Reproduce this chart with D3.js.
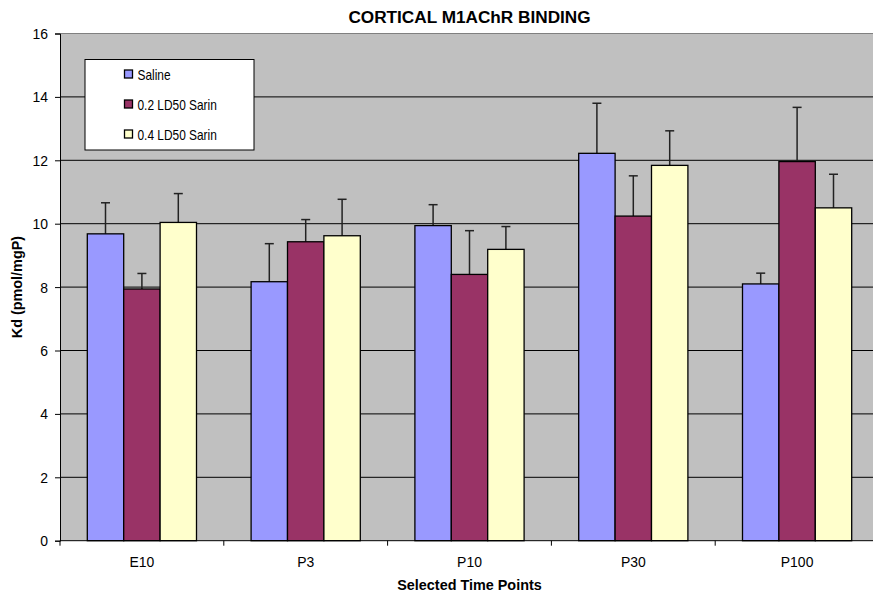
<!DOCTYPE html>
<html>
<head>
<meta charset="utf-8">
<script src="https://cdn.jsdelivr.net/npm/d3@7"></script>
<style>
  body { margin: 0; background: #fff; }
  text { font-family: "Liberation Sans", Arial, sans-serif; }
</style>
</head>
<body>
<div id="chart"></div>
<script>
const timePoints = ["E10", "P3", "P10", "P30", "P100"];
const groups = ["Saline", "0.2 LD50 Sarin", "0.4 LD50 Sarin"];
const saline = [9.68, 8.17, 9.94, 12.22, 8.10];
const sarin02 = [7.94, 9.43, 8.40, 10.24, 11.96];
const sarin04 = [10.04, 9.62, 9.19, 11.84, 10.50];
const salineErr = [0.98, 1.20, 0.66, 1.58, 0.34];
const sarin02Err = [0.49, 0.70, 1.38, 1.27, 1.71];
const sarin04Err = [0.91, 1.15, 0.72, 1.09, 1.06];
const yTicks = [0, 2, 4, 6, 8, 10, 12, 14, 16];
const colors = ["#9999FF", "#993366", "#FFFFCC"];

const W = 873, H = 594;
const margin = { top: 33.5, left: 60, bottom: 53.3 };
const plotRight = 879;
const tickSx = 0.9; // text in the original looks a bit condensed

const svg = d3.select("#chart").append("svg")
  .attr("width", W).attr("height", H);

const x = d3.scaleBand().domain(timePoints)
  .range([margin.left, plotRight]).paddingInner(0).paddingOuter(0);
const inner = d3.scaleBand().domain(groups)
  .range([0, x.bandwidth() * 2 / 3]);
const y = d3.scaleLinear().domain([0, 16])
  .range([H - margin.bottom, margin.top]);

// plot background
svg.append("rect")
  .attr("x", margin.left).attr("y", y(16))
  .attr("width", plotRight - margin.left).attr("height", y(0) - y(16))
  .attr("fill", "#C0C0C0");

// grid lines
svg.append("g").selectAll("line")
  .data(yTicks.filter(d => d > 0 && d < 16))
  .enter().append("line")
  .attr("x1", margin.left).attr("x2", plotRight)
  .attr("y1", d => y(d)).attr("y2", d => y(d))
  .attr("stroke", "#000").attr("stroke-width", 1);

svg.append("line")
  .attr("x1", margin.left).attr("x2", plotRight)
  .attr("y1", y(16)).attr("y2", y(16))
  .attr("stroke", "#808080").attr("stroke-width", 1);

// bars
const rows = timePoints.map((t, i) => ({
  t,
  vals: [
    { g: groups[0], v: saline[i], e: salineErr[i], c: colors[0] },
    { g: groups[1], v: sarin02[i], e: sarin02Err[i], c: colors[1] },
    { g: groups[2], v: sarin04[i], e: sarin04Err[i], c: colors[2] }
  ]
}));

const grp = svg.append("g").selectAll("g")
  .data(rows).enter().append("g")
  .attr("transform", d => `translate(${x(d.t) + x.bandwidth() / 6},0)`);

grp.selectAll("line.err")
  .data(d => d.vals).enter().append("line")
  .attr("class", "err")
  .attr("x1", d => inner(d.g) + inner.bandwidth() / 2)
  .attr("x2", d => inner(d.g) + inner.bandwidth() / 2)
  .attr("y1", d => y(d.v)).attr("y2", d => y(d.v + d.e))
  .attr("stroke", "#222").attr("stroke-width", 1.5);

grp.selectAll("line.cap")
  .data(d => d.vals).enter().append("line")
  .attr("class", "cap")
  .attr("x1", d => inner(d.g) + inner.bandwidth() / 2 - 4.5)
  .attr("x2", d => inner(d.g) + inner.bandwidth() / 2 + 4.5)
  .attr("y1", d => y(d.v + d.e)).attr("y2", d => y(d.v + d.e))
  .attr("stroke", "#222").attr("stroke-width", 1.5);

grp.selectAll("rect")
  .data(d => d.vals).enter().append("rect")
  .attr("x", d => inner(d.g))
  .attr("y", d => y(d.v))
  .attr("width", inner.bandwidth())
  .attr("height", d => y(0) - y(d.v))
  .attr("fill", d => d.c)
  .attr("stroke", "#000").attr("stroke-width", 1.3);

// axes
const yAxis = svg.append("g")
  .attr("transform", `translate(${margin.left},0)`)
  .call(d3.axisLeft(y).tickValues(yTicks).tickSize(5).tickPadding(0));
yAxis.select(".domain").attr("stroke", "#000");
yAxis.selectAll(".tick line").attr("stroke", "#000");
yAxis.selectAll("text")
  .attr("font-size", 15.5).attr("fill", "#000").attr("font-family", null)
  .attr("x", -12 / tickSx)
  .attr("transform", `scale(${tickSx},1)`);

const xAxis = svg.append("g")
  .attr("transform", `translate(0,${y(0)})`);
xAxis.append("line")
  .attr("x1", margin.left).attr("x2", plotRight)
  .attr("stroke", "#000").attr("stroke-width", 1);
xAxis.selectAll("line.tick")
  .data(timePoints).enter().append("line")
  .attr("class", "tick")
  .attr("x1", d => x(d)).attr("x2", d => x(d))
  .attr("y1", 0).attr("y2", 5)
  .attr("stroke", "#000");
xAxis.selectAll("text")
  .data(timePoints).enter().append("text")
  .attr("transform", d => `translate(${x(d) + x.bandwidth() / 2},26) scale(${tickSx},1)`)
  .attr("text-anchor", "middle")
  .attr("font-size", 15.5)
  .text(d => d);

// titles
svg.append("text")
  .attr("x", (margin.left + plotRight) / 2).attr("y", 23)
  .attr("text-anchor", "middle")
  .attr("font-size", 17.2).attr("font-weight", "bold")
  .text("CORTICAL M1AChR BINDING");

svg.append("text")
  .attr("x", (margin.left + plotRight) / 2).attr("y", 590)
  .attr("text-anchor", "middle")
  .attr("font-size", 14.4).attr("font-weight", "bold")
  .text("Selected Time Points");

svg.append("text")
  .attr("transform", `translate(22,${(y(0) + y(16)) / 2}) rotate(-90)`)
  .attr("text-anchor", "middle")
  .attr("font-size", 14.4).attr("font-weight", "bold")
  .text("Kd  (pmol/mgP)");

// legend
const legend = svg.append("g");
legend.append("rect")
  .attr("x", 85).attr("y", 59.5).attr("width", 169).attr("height", 90.5)
  .attr("fill", "#fff").attr("stroke", "#000").attr("stroke-width", 1);
groups.forEach((g, i) => {
  const cy = 74 + i * 30;
  legend.append("rect")
    .attr("x", 124.5).attr("y", cy - 4).attr("width", 8).attr("height", 8)
    .attr("fill", colors[i]).attr("stroke", "#000").attr("stroke-width", 1.3);
  legend.append("text")
    .attr("transform", `translate(137.5,${cy + 5.5}) scale(0.85,1)`)
    .attr("font-size", 14)
    .text(g);
});
</script>
</body>
</html>
